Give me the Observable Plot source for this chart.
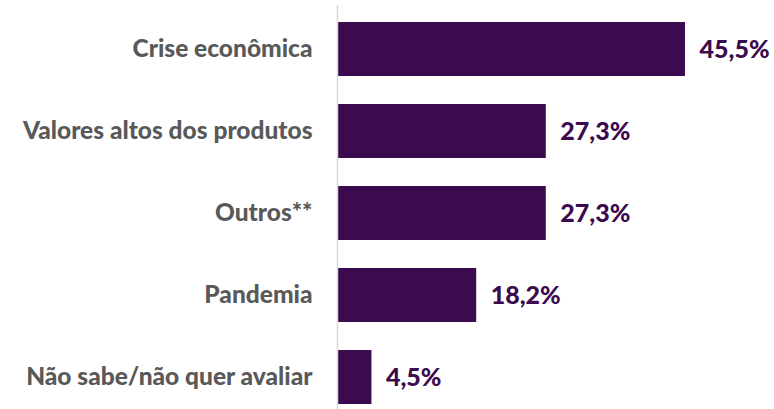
<!DOCTYPE html>
<html>
<head>
<meta charset="utf-8">
<script src="https://cdn.jsdelivr.net/npm/d3@7"></script>
<script src="https://cdn.jsdelivr.net/npm/@observablehq/plot@0.6"></script>
<style>
  html, body { margin: 0; padding: 0; background: #fff; }
  #chart { width: 774px; height: 409px; }
</style>
</head>
<body>
<div id="chart"></div>
<script>
const categories = ["Crise econômica", "Valores altos dos produtos", "Outros**", "Pandemia", "Não sabe/não quer avaliar"];
const values = [45.5, 27.3, 27.3, 18.2, 4.5];

const data = categories.map((c, i) => ({ category: c, value: values[i] }));
const fmt = v => v.toFixed(1).replace(".", ",") + "%";
const barColor = "#3c0a4e";
const font = "Lato, 'Open Sans', sans-serif";

const chart = Plot.plot({
  width: 774,
  height: 409,
  marginTop: 5,
  marginBottom: 0,
  marginLeft: 0,
  marginRight: 0,
  style: { fontFamily: font, background: "#fff" },
  x: { domain: [0, 45.5], range: [337, 685], axis: null },
  y: { domain: categories, range: [-8, 435], padding: 28 / 83, axis: null },
  marks: [
    Plot.barX(data, { y: "category", x: "value", fill: barColor }),
    Plot.ruleX([0], { stroke: "#d9d9d9", strokeWidth: 1.5 }),
    Plot.text(data, {
      y: "category", x: 0, text: "category", textAnchor: "end", dx: -25,
      fill: "#595959", fontSize: 24.5, fontWeight: 900
    }),
    Plot.text(data, {
      y: "category", x: "value", text: d => fmt(d.value), textAnchor: "start", dx: 14,
      fill: barColor, fontSize: 25, fontWeight: 900
    })
  ]
});
document.getElementById("chart").appendChild(chart);
</script>
</body>
</html>
